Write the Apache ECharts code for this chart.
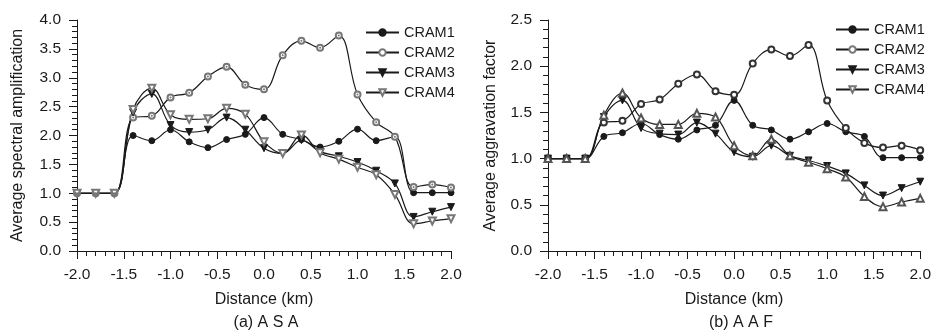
<!DOCTYPE html>
<html>
<head>
<meta charset="utf-8">
<script src="https://cdn.jsdelivr.net/npm/echarts@6/dist/echarts.min.js"></script>
<style>
html,body{margin:0;padding:0;background:#fff;}
#chart{width:934px;height:332px;}
</style>
</head>
<body>
<div id="chart"></div>
<script>
// ---- data ----
const distance = [-2.0,-1.8,-1.6,-1.4,-1.2,-1.0,-0.8,-0.6,-0.4,-0.2,0.0,0.2,0.4,0.6,0.8,1.0,1.2,1.4,1.6,1.8,2.0];
const seriesNames = ['CRAM1','CRAM2','CRAM3','CRAM4'];

// (a) ASA
const asaCram1 = [1.00,1.00,1.00,2.00,1.91,2.10,1.89,1.79,1.93,2.02,2.31,2.02,1.93,1.80,1.90,2.11,1.91,1.98,1.01,1.01,1.01];
const asaCram2 = [1.00,1.00,1.00,2.31,2.34,2.66,2.74,3.02,3.19,2.88,2.80,3.39,3.64,3.52,3.73,2.71,2.23,1.98,1.11,1.15,1.10];
const asaCram3 = [1.00,1.00,1.00,2.40,2.72,2.18,2.06,2.10,2.31,2.10,1.78,1.69,1.92,1.72,1.64,1.54,1.39,1.17,0.59,0.68,0.76];
const asaCram4 = [1.00,1.00,1.00,2.45,2.82,2.36,2.28,2.29,2.47,2.37,1.89,1.69,2.01,1.70,1.59,1.45,1.32,0.98,0.47,0.52,0.56];

// (b) AAF
const aafCram1 = [1.00,1.00,1.00,1.24,1.28,1.38,1.26,1.21,1.31,1.36,1.63,1.36,1.31,1.21,1.29,1.38,1.29,1.24,1.01,1.01,1.01];
const aafCram2 = [1.00,1.00,1.00,1.39,1.41,1.59,1.64,1.81,1.91,1.73,1.69,2.03,2.18,2.11,2.23,1.63,1.33,1.17,1.12,1.14,1.09];
const aafCram3 = [1.00,1.00,1.00,1.45,1.63,1.33,1.27,1.26,1.39,1.27,1.07,1.02,1.14,1.03,0.98,0.92,0.84,0.71,0.60,0.68,0.75];
const aafCram4 = [1.00,1.00,1.00,1.47,1.71,1.44,1.37,1.37,1.49,1.45,1.14,1.03,1.21,1.03,0.96,0.89,0.80,0.59,0.48,0.53,0.57];

const xTitle = 'Distance (km)';
const yTitleA = 'Average spectral amplification';
const yTitleB = 'Average aggravation factor';
const captionA = '(a) A S A';
const captionB = '(b) A A F';

// ---- chart ----
const FONT = "'Liberation Sans', Arial, sans-serif";
const INK = '#1a1a1a';
const pairs = arr => distance.map((d, i) => [d, arr[i]]);

function xAxisCfg(gi) {
  return {
    type: 'value', gridIndex: gi, min: -2, max: 2, interval: 0.5,
    name: xTitle, nameLocation: 'middle', nameGap: 41,
    nameTextStyle: {fontFamily: FONT, fontSize: 16, color: INK},
    axisLine: {show: true, onZero: false, lineStyle: {color: INK, width: 1}},
    axisTick: {show: true, inside: false, length: 8, lineStyle: {color: INK}},
    minorTick: {show: true, splitNumber: 5, length: 5, lineStyle: {color: INK}},
    splitLine: {show: false}, minorSplitLine: {show: false},
    axisLabel: {fontFamily: FONT, fontSize: 15.5, color: INK, margin: 16,
      formatter: v => v.toFixed(1)}
  };
}
function yAxisCfg(gi, max, title, gap) {
  return {
    type: 'value', gridIndex: gi, min: 0, max: max, interval: 0.5,
    name: title, nameLocation: 'middle', nameGap: gap,
    nameTextStyle: {fontFamily: FONT, fontSize: 16, color: INK},
    axisLine: {show: true, onZero: false, lineStyle: {color: INK, width: 1}},
    axisTick: {show: true, inside: false, length: 8, lineStyle: {color: INK}},
    minorTick: {show: true, splitNumber: 5, length: 5, lineStyle: {color: INK}},
    splitLine: {show: false}, minorSplitLine: {show: false},
    axisLabel: {fontFamily: FONT, fontSize: 15.5, color: INK, margin: 16,
      formatter: v => v.toFixed(1)}
  };
}

function lineSeries(name, gi, data, symbol, rotate, fill, border) {
  return {
    type: 'line', name: name, xAxisIndex: gi, yAxisIndex: gi,
    data: pairs(data), smooth: 0.38,
    symbol: symbol, symbolSize: symbol.indexOf('riangle') >= 0 ? 7 : 6,
    symbolRotate: rotate, showAllSymbol: true,
    lineStyle: {color: INK, width: 1.2},
    itemStyle: {color: fill, borderColor: border, borderWidth: 1},
    emphasis: {disabled: true}, animation: false
  };
}

const GRAY = '#777';
const series = [
  lineSeries('CRAM1', 0, asaCram1, 'circle', 0, INK, INK),
  lineSeries('CRAM2', 0, asaCram2, 'emptyCircle', 0, GRAY, GRAY),
  lineSeries('CRAM3', 0, asaCram3, 'triangle', 180, INK, INK),
  lineSeries('CRAM4', 0, asaCram4, 'emptyTriangle', 180, GRAY, GRAY),
  {
    type: 'scatter', name: 'dots', xAxisIndex: 0, yAxisIndex: 0,
    data: pairs(asaCram2), symbol: 'circle', symbolSize: 2,
    itemStyle: {color: '#555'}, silent: true, z: 5, animation: false
  },
  lineSeries('CRAM1', 1, aafCram1, 'circle', 0, INK, INK),
  lineSeries('CRAM2', 1, aafCram2, 'emptyCircle', 0, '#333', '#333'),
  lineSeries('CRAM3', 1, aafCram3, 'triangle', 180, INK, INK),
  lineSeries('CRAM4', 1, aafCram4, 'emptyTriangle', 0, '#555', '#555')
];

function legendCfg(left, top) {
  return {
    data: seriesNames, orient: 'vertical', left: left, top: top,
    itemWidth: 33, itemHeight: 8, itemGap: 5,
    textStyle: {fontFamily: FONT, fontSize: 14.5, color: INK},
    selectedMode: false
  };
}

const chart = echarts.init(document.getElementById('chart'), null, {renderer: 'canvas'});
chart.setOption({
  backgroundColor: '#fff',
  animation: false,
  grid: [
    {left: 77, right: 483, top: 20, bottom: 81},
    {left: 548, right: 12, top: 20, bottom: 81}
  ],
  xAxis: [xAxisCfg(0), xAxisCfg(1)],
  yAxis: [yAxisCfg(0, 4, yTitleA, 51), yAxisCfg(1, 2.5, yTitleB, 49)],
  legend: [legendCfg(360, 20), legendCfg(830, 17)],
  graphic: [
    {type: 'text', x: 266, y: 323, style: {text: captionA, font: '16px ' + FONT, fill: INK, align: 'center', verticalAlign: 'middle'}},
    {type: 'text', x: 741, y: 323, style: {text: captionB, font: '16px ' + FONT, fill: INK, align: 'center', verticalAlign: 'middle'}}
  ],
  series: series
});
</script>
</body>
</html>
